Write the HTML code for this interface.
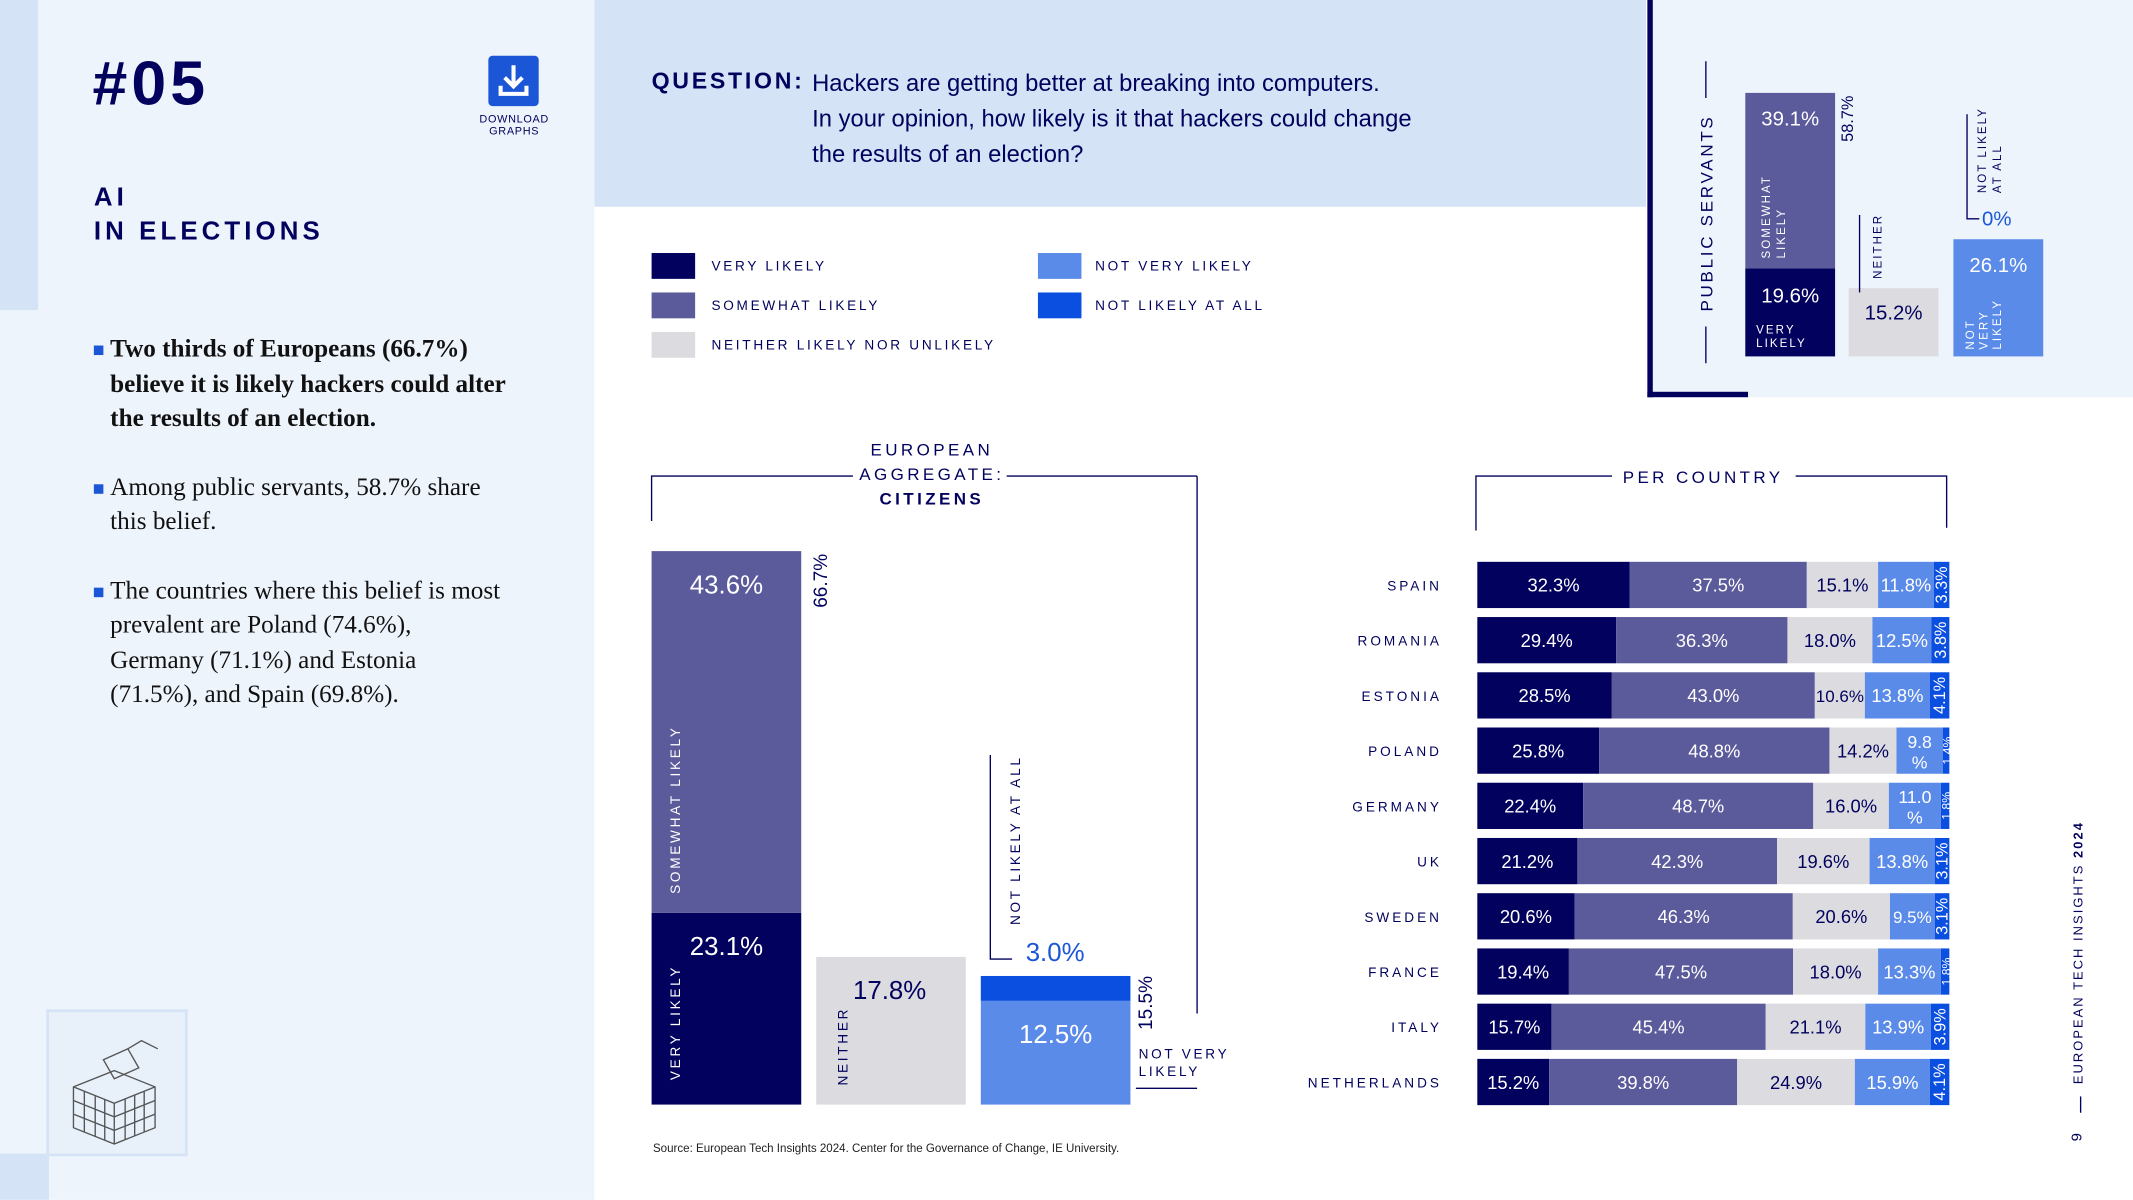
<!DOCTYPE html>
<html><head><meta charset="utf-8">
<style>
html,body{margin:0;padding:0;width:2133px;height:1200px;overflow:hidden;background:#fff}
#wrap{position:absolute;left:0;top:0;width:1568px;height:882px;transform:scale(1.36033);transform-origin:0 0;font-family:"Liberation Sans",sans-serif;color:#02025e}
.abs{position:absolute}
</style></head><body>
<div id="wrap">
<div class="abs" style="left:0;top:0;width:437px;height:882px;background:#eef4fc"></div>
<div class="abs" style="left:0;top:0;width:28px;height:228px;background:#d4e4f6"></div>
<div class="abs" style="left:0;top:848px;width:36px;height:34px;background:#d4e4f6"></div>
<div class="abs" style="left:68px;top:34px;font-size:46px;font-weight:900;letter-spacing:3px;color:#02025e">#05</div>
<div class="abs" style="left:359px;top:41px;width:37px;height:37px;background:#1a56d6;border-radius:3px">
<svg width="37" height="37" viewBox="0 0 37 37"><path d="M18.5 7v15M12 16l6.5 6.5L25 16M9 22v6h19v-6" stroke="#fff" stroke-width="3" fill="none"/></svg></div>
<div class="abs" style="left:340px;top:83px;width:76px;text-align:center;font-size:8px;letter-spacing:.5px;line-height:9px">DOWNLOAD<br>GRAPHS</div>
<div class="abs" style="left:69px;top:133px;font-size:19px;font-weight:900;letter-spacing:3px;line-height:25px">AI<br>IN ELECTIONS</div>
<div class="abs" style="left:69px;top:245px;width:305px;font-family:'Liberation Serif',serif;font-size:18.5px;line-height:25.5px;color:#111">
<div style="position:relative;padding-left:12px;font-weight:bold"><span style="position:absolute;left:0;top:9px;width:7px;height:7px;background:#1a56d6"></span>Two thirds of Europeans (66.7%) believe it is likely hackers could alter the results of an election.</div>
<div style="position:relative;padding-left:12px;margin-top:25px"><span style="position:absolute;left:0;top:9px;width:7px;height:7px;background:#1a56d6"></span>Among public servants, 58.7% share this belief.</div>
<div style="position:relative;padding-left:12px;margin-top:25px"><span style="position:absolute;left:0;top:9px;width:7px;height:7px;background:#1a56d6"></span>The countries where this belief is most prevalent are Poland (74.6%), Germany (71.1%) and Estonia (71.5%), and Spain (69.8%).</div>
</div>
<div class="abs" style="left:34px;top:742px;width:100px;height:104px;border:2px solid #d4e4f6;background:#e8f0fa">
<svg width="100" height="104"><g stroke="#555" fill="none" stroke-width="1"><path d="M18 55l30-12 30 12v30l-30 12-30-12z"/><path d="M18 55l30 12 30-12M48 67v30"/><path d="M26 58v30M34 61v30M41 64v30M56 64v30M63 61v30M70 58v30M18 65l30 12 30-12M18 75l30 12 30-12"/><path d="M40 35l18-8 8 14-18 8z"/><path d="M58 27l10-6 12 6"/></g></svg></div>

<div class="abs" style="left:437px;top:0;width:773px;height:152px;background:#d4e4f6"></div>
<div class="abs" style="left:479px;top:50px;font-size:17px;font-weight:900;letter-spacing:2px">QUESTION:</div>
<div class="abs" style="left:597px;top:48px;font-size:17.5px;line-height:26px;color:#02025e">Hackers are getting better at breaking into computers.<br>In your opinion, how likely is it that hackers could change<br>the results of an election?</div>

<div class="abs" style="left:1212px;top:0;width:356px;height:292px;background:#eef4fc"></div>
<div class="abs" style="left:1211px;top:0;width:4px;height:292px;background:#02025e"></div>
<div class="abs" style="left:1211px;top:288px;width:74px;height:4px;background:#02025e"></div>

<div class="abs" style="left:479px;top:186px;font-size:10px;letter-spacing:2px">
<div class="abs" style="left:0;top:0;width:32px;height:19px;background:#02025e"></div><div class="abs" style="left:44px;top:5px;white-space:nowrap">VERY LIKELY</div>
<div class="abs" style="left:0;top:29px;width:32px;height:19px;background:#5b5a9b"></div><div class="abs" style="left:44px;top:34px;white-space:nowrap">SOMEWHAT LIKELY</div>
<div class="abs" style="left:0;top:58px;width:32px;height:19px;background:#dcdce0"></div><div class="abs" style="left:44px;top:63px;white-space:nowrap">NEITHER LIKELY NOR UNLIKELY</div>
<div class="abs" style="left:284px;top:0;width:32px;height:19px;background:#5b8be8"></div><div class="abs" style="left:326px;top:5px;white-space:nowrap">NOT VERY LIKELY</div>
<div class="abs" style="left:284px;top:29px;width:32px;height:19px;background:#0a4fe0"></div><div class="abs" style="left:326px;top:34px;white-space:nowrap">NOT LIKELY AT ALL</div>
</div>

<svg id="chart" class="abs" style="left:0;top:0" width="1568" height="882"></svg>

<div class="abs" style="left:480px;top:839px;font-size:8.5px;color:#222">Source: European Tech Insights 2024. Center for the Governance of Change, IE University.</div>
<div class="abs" style="left:1523px;top:797px;transform:rotate(-90deg);transform-origin:0 0;font-size:9.5px;letter-spacing:1.5px;white-space:nowrap">EUROPEAN TECH INSIGHTS <b>2024</b></div>
<div class="abs" style="left:1529px;top:806px;width:1px;height:12px;background:#02025e"></div>
<div class="abs" style="left:1524px;top:830px;transform:rotate(-90deg);font-size:11px">9</div>
</div>
<script>
const C=["#02025e","#5b5a9b","#dcdce0","#5b8be8","#0a4fe0"];
const TXT=["#fff","#fff","#02025e","#fff","#fff"];
const aggCategories=["VERY LIKELY","SOMEWHAT LIKELY","NEITHER","NOT VERY LIKELY","NOT LIKELY AT ALL"];
const aggValues=[23.1,43.6,17.8,12.5,3.0];
const psValues=[19.6,39.1,15.2,26.1,0];
const countries=["SPAIN","ROMANIA","ESTONIA","POLAND","GERMANY","UK","SWEDEN","FRANCE","ITALY","NETHERLANDS"];
const veryLikely=[32.3,29.4,28.5,25.8,22.4,21.2,20.6,19.4,15.7,15.2];
const somewhatLikely=[37.5,36.3,43.0,48.8,48.7,42.3,46.3,47.5,45.4,39.8];
const neither=[15.1,18.0,10.6,14.2,16.0,19.6,20.6,18.0,21.1,24.9];
const notVery=[11.8,12.5,13.8,9.8,11.0,13.8,9.5,13.3,13.9,15.9];
const notAtAll=[3.3,3.8,4.1,1.4,1.8,3.1,3.1,1.8,3.9,4.1];

const svg=document.getElementById('chart');
const NS="http://www.w3.org/2000/svg";
function mk(tag,attrs,parent){const e=document.createElementNS(NS,tag);for(const k in attrs)e.setAttribute(k,attrs[k]);(parent||svg).appendChild(e);return e;}
function txt(s,attrs){const e=mk('text',Object.assign({'font-family':'Liberation Sans, sans-serif'},attrs));e.textContent=s;return e;}
function fmt(v){return v.toFixed(1)+'%';}

// Aggregate chart
const aggBase=812, aggK=6.1;
const ay=v=>aggK*v;
function aggBar(x,y0,v,col,name){const r=mk('rect',{x:x,y:y0-ay(v),width:110,height:ay(v),fill:col});return y0-ay(v);}
let t1=aggBar(479,aggBase,aggValues[0],C[0],'agg-bar-very-likely');
let t2=aggBar(479,t1,aggValues[1],C[1],'agg-bar-somewhat-likely');
let t3=aggBar(600,aggBase,aggValues[2],C[2],'agg-bar-neither');
let t4=aggBar(721,aggBase,aggValues[3],C[3],'agg-bar-not-very-likely');
let t5=aggBar(721,t4,aggValues[4],C[4],'agg-bar-not-likely-at-all');
txt(fmt(aggValues[0]),{x:534,y:t1+31,'text-anchor':'middle',fill:'#fff','font-size':19});
txt(fmt(aggValues[1]),{x:534,y:t2+31,'text-anchor':'middle',fill:'#fff','font-size':19});
txt(fmt(aggValues[2]),{x:654,y:t3+31,'text-anchor':'middle',fill:'#02025e','font-size':19});
txt(fmt(aggValues[3]),{x:776,y:t4+31,'text-anchor':'middle',fill:'#fff','font-size':19});
txt(fmt(aggValues[4]),{x:754,y:t5-11,fill:'#1a56d6','font-size':19});
txt(fmt(aggValues[0]+aggValues[1]),{transform:`translate(608,${t2+2}) rotate(-90)`,'text-anchor':'end',fill:'#02025e','font-size':14});
txt(fmt(aggValues[3]+aggValues[4]),{transform:`translate(847,${t5}) rotate(-90)`,'text-anchor':'end',fill:'#02025e','font-size':14});
txt('VERY LIKELY',{transform:`translate(500,${aggBase-18}) rotate(-90)`,fill:'#fff','font-size':10,'letter-spacing':2});
txt('SOMEWHAT LIKELY',{transform:`translate(500,${t1-14}) rotate(-90)`,fill:'#fff','font-size':10,'letter-spacing':2});
txt('NEITHER',{transform:`translate(623,${aggBase-14}) rotate(-90)`,fill:'#02025e','font-size':10,'letter-spacing':2});
mk('path',{d:`M728 555V705H744`,stroke:'#02025e',fill:'none'});
txt('NOT LIKELY AT ALL',{transform:`translate(750,680) rotate(-90)`,fill:'#02025e','font-size':10,'letter-spacing':2});
mk('path',{d:`M835 800H880M880 350V745`,stroke:'#02025e',fill:'none'});
txt('NOT VERY',{x:837,y:778,fill:'#02025e','font-size':10,'letter-spacing':2});
txt('LIKELY',{x:837,y:791,fill:'#02025e','font-size':10,'letter-spacing':2});
mk('path',{d:'M479 383V350H627M740 350H880',stroke:'#02025e',fill:'none'});
txt('EUROPEAN',{x:685,y:335,'text-anchor':'middle',fill:'#02025e','font-size':12.5,'letter-spacing':2.5});
txt('AGGREGATE:',{x:685,y:353,'text-anchor':'middle',fill:'#02025e','font-size':12.5,'letter-spacing':2.5});
txt('CITIZENS',{x:685,y:371,'text-anchor':'middle',fill:'#02025e','font-size':12.5,'letter-spacing':2.5,'font-weight':'bold'});

// Public servants chart
const psBase=262, psK=3.3;
const py=v=>psK*v;
function psBar(x,y0,v,col,name){const r=mk('rect',{x:x,y:y0-py(v),width:66,height:py(v),fill:col});return y0-py(v);}
let p1=psBar(1283,psBase,psValues[0],C[0],'ps-bar-very-likely');
let p2=psBar(1283,p1,psValues[1],C[1],'ps-bar-somewhat-likely');
let p3=psBar(1359,psBase,psValues[2],C[2],'ps-bar-neither');
let p4=psBar(1436,psBase,psValues[3],C[3],'ps-bar-not-very-likely');
let p5=psBar(1436,p4,psValues[4],C[4],'ps-bar-not-likely-at-all');
txt(fmt(psValues[0]),{x:1316,y:p1+25,'text-anchor':'middle',fill:'#fff','font-size':15});
txt(fmt(psValues[1]),{x:1316,y:p2+24,'text-anchor':'middle',fill:'#fff','font-size':15});
txt(fmt(psValues[2]),{x:1392,y:p3+23,'text-anchor':'middle',fill:'#02025e','font-size':15});
txt(fmt(psValues[3]),{x:1469,y:p4+24,'text-anchor':'middle',fill:'#fff','font-size':15});
txt((psValues[4]===0?'0':psValues[4].toFixed(1))+'%',{x:1457,y:p5-10,fill:'#1a56d6','font-size':15});
mk('path',{d:`M1446 84V${p5-15}H1455`,stroke:'#02025e',fill:'none'});
txt(fmt(psValues[0]+psValues[1]),{transform:`translate(1362,${p2+2}) rotate(-90)`,'text-anchor':'end',fill:'#02025e','font-size':12});
txt('VERY',{x:1291,y:245,fill:'#fff','font-size':8.5,'letter-spacing':1.5});
txt('LIKELY',{x:1291,y:255,fill:'#fff','font-size':8.5,'letter-spacing':1.5});
txt('SOMEWHAT',{transform:'translate(1301,190) rotate(-90)',fill:'#fff','font-size':8.5,'letter-spacing':1.5});
txt('LIKELY',{transform:'translate(1312,190) rotate(-90)',fill:'#fff','font-size':8.5,'letter-spacing':1.5});
txt('NEITHER',{transform:'translate(1383,205) rotate(-90)',fill:'#02025e','font-size':8.5,'letter-spacing':1.5});
mk('path',{d:'M1367 158V215',stroke:'#02025e',fill:'none'});
txt('NOT',{transform:'translate(1451,257) rotate(-90)',fill:'#fff','font-size':8.5,'letter-spacing':1.5});
txt('VERY',{transform:'translate(1461,257) rotate(-90)',fill:'#fff','font-size':8.5,'letter-spacing':1.5});
txt('LIKELY',{transform:'translate(1471,257) rotate(-90)',fill:'#fff','font-size':8.5,'letter-spacing':1.5});
txt('NOT LIKELY',{transform:'translate(1460,142) rotate(-90)',fill:'#02025e','font-size':8.5,'letter-spacing':1.5});
txt('AT ALL',{transform:'translate(1471,142) rotate(-90)',fill:'#02025e','font-size':8.5,'letter-spacing':1.5});
txt('PUBLIC SERVANTS',{transform:'translate(1259,229) rotate(-90)',fill:'#02025e','font-size':12.5,'letter-spacing':2});
mk('path',{d:'M1254 45V72M1254 240V267',stroke:'#02025e',fill:'none'});

// Per country chart
mk('path',{d:'M1085 390V350H1185M1320 350H1431V388',stroke:'#02025e',fill:'none'});
txt('PER COUNTRY',{x:1252,y:355,'text-anchor':'middle',fill:'#02025e','font-size':12.5,'letter-spacing':2.5});
const cx0=1086, cW=347, cTop=413, cStep=40.6, cH=34;
const series=[veryLikely,somewhatLikely,neither,notVery,notAtAll];
const snames=['very-likely','somewhat-likely','neither','not-very-likely','not-likely-at-all'];
countries.forEach((c,i)=>{
  const y=cTop+i*cStep;
  const l=txt(c,{x:1060,y:y+21,'text-anchor':'end',fill:'#02025e','font-size':10,'letter-spacing':2.2});
  
  
  let tot=0;series.forEach(s=>tot+=s[i]);
  let x=cx0;
  series.forEach((s,j)=>{
    const w=s[i]/tot*cW;
    const r=mk('rect',{x:x,y:y,width:w,height:cH,fill:C[j]});
    
    
    if(j===4){
      txt(fmt(s[i]),{transform:`translate(${x+w/2+4},${y+cH/2}) rotate(-90)`,'text-anchor':'middle',fill:'#fff','font-size':s[i]<2?9:12});
    } else if(j===3 && w<40 && s[i]>=9.8){
      txt(s[i].toFixed(1),{x:x+w/2,y:y+15,'text-anchor':'middle',fill:TXT[j],'font-size':13});
      txt('%',{x:x+w/2,y:y+30,'text-anchor':'middle',fill:TXT[j],'font-size':13});
    } else {
      txt(fmt(s[i]),{x:x+w/2,y:y+22,'text-anchor':'middle',fill:TXT[j],'font-size':w<40?12.5:13.5});
    }
    x+=w;
  });
});
</script>
</body></html>
